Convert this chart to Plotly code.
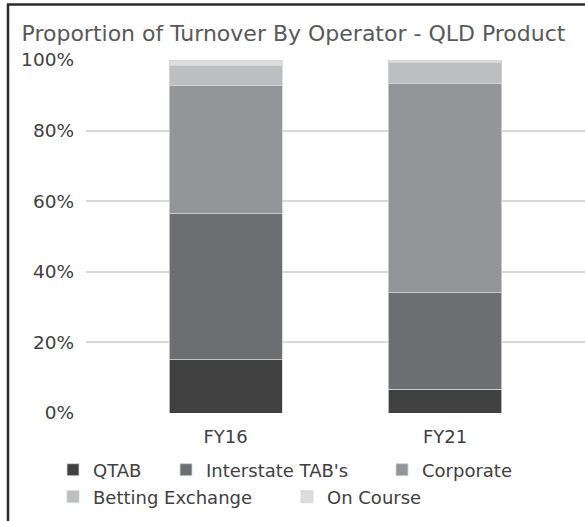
import plotly.graph_objects as go

categories = ["FY16", "FY21"]
series_names = ["QTAB", "Interstate TAB's", "Corporate", "Betting Exchange", "On Course"]
qtab = [15.1, 6.8]
interstate = [41.3, 27.2]
corporate = [36.5, 59.3]
betting_exchange = [5.5, 6.0]
on_course = [1.6, 0.7]
series_values = [qtab, interstate, corporate, betting_exchange, on_course]
colors = ["#404040", "#6d6e71", "#939598", "#bcbec0", "#dcdddf"]
tick_vals = [0, 20, 40, 60, 80, 100]
tick_text = ["0%", "20%", "40%", "60%", "80%", "100%"]

W, H = 585, 521
L, R, T, B = 86, 0, 60, 108
pw, ph = W - L - R, H - T - B

def px(x):
    return (x - L) / pw

def py(y):
    return (H - B - y) / ph

FONT = "DejaVu Sans"
TXT = "#404040"

# legend entry placement (pixel positions of the text start and row centre)
legend_ids = ["legend", "legend2", "legend3", "legend4", "legend5"]
legend_text_x = [89, 202, 418, 89, 323]
legend_row_y = [470, 470, 470, 497, 497]

fig = go.Figure()
for name, vals, col, lg in zip(series_names, series_values, colors, legend_ids):
    fig.add_trace(go.Bar(
        x=categories, y=vals, name=name, legend=lg, showlegend=True,
        marker=dict(color=col, line=dict(color="#d4d4d6", width=0.8)),
        width=0.515,
    ))

legends = {}
for lg, tx, ty in zip(legend_ids, legend_text_x, legend_row_y):
    legends[lg] = dict(orientation="h", xanchor="left", yanchor="middle",
                       x=px(tx - 36), y=py(ty),
                       font=dict(family=FONT, size=18, color=TXT),
                       itemwidth=30, bgcolor="rgba(0,0,0,0)")

fig.update_layout(
    barmode="stack",
    showlegend=True,
    width=W, height=H,
    margin=dict(l=L, r=R, t=T, b=B),
    paper_bgcolor="white", plot_bgcolor="white",
    font=dict(family=FONT, color=TXT, size=18),
    title=dict(text="Proportion of Turnover By Operator - QLD Product",
               x=293.5 / W, xref="container", xanchor="center",
               y=1 - 33 / H, yref="container", yanchor="middle",
               font=dict(family=FONT, size=22, color="#595959")),
    xaxis=dict(range=[-0.636, 1.638], showgrid=False, showline=False,
               tickfont=dict(family=FONT, size=18, color=TXT), ticks="",
               ticklabelstandoff=11),
    yaxis=dict(range=[0, 100], tickvals=tick_vals, ticktext=tick_text,
               showgrid=True, gridcolor="#d9d9d9", gridwidth=1.5, zeroline=False,
               tickfont=dict(family=FONT, size=18.5, color=TXT), ticklabelstandoff=11),
    shapes=[
        dict(type="line", xref="paper", yref="paper", x0=px(8), x1=px(8), y0=py(4), y1=py(525),
             line=dict(color="#2b2b2b", width=2.5)),
        dict(type="line", xref="paper", yref="paper", x0=px(7), x1=px(590), y0=py(4.5), y1=py(4.5),
             line=dict(color="#2b2b2b", width=2.5)),
    ],
    **legends,
)
fig.write_html("out.html", post_script="document.body.style.margin='0';",
               config={"displayModeBar": False})
